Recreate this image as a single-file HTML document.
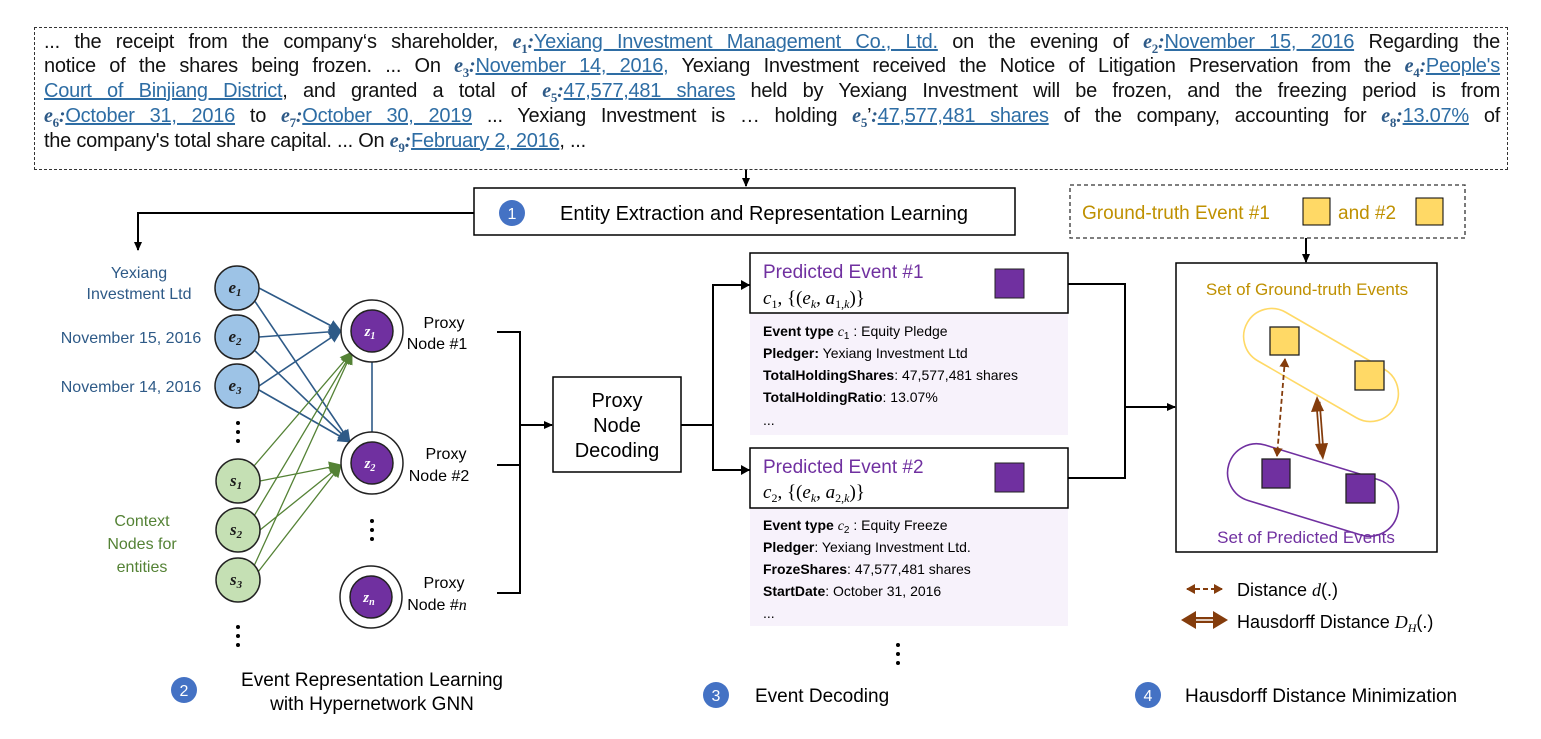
<!DOCTYPE html>
<html><head><meta charset="utf-8"><style>
body{margin:0;width:1541px;height:739px;background:#fff;position:relative;overflow:hidden;font-family:"Liberation Sans",sans-serif}
#top{position:absolute;left:34px;top:27px;width:1474px;height:143px;border:1.5px dashed #333;box-sizing:border-box}
.ln{position:absolute;left:9px;width:1456px;font-size:20px;letter-spacing:-0.25px;text-align:justify;text-align-last:justify;white-space:nowrap;color:#111;line-height:25px}
.ln.l{text-align-last:left}
.e{color:#2e5a87;font-family:"Liberation Serif",serif;font-style:italic;font-weight:bold}
.e sub{font-size:13px;font-style:normal;line-height:0}
.u{color:#2e6da4;text-decoration:underline}
svg{position:absolute;left:0;top:0}
</style></head><body>
<div id="top">
<div class="ln" style="top:2px">... the receipt from the company‘s shareholder, <span class="e">e<sub>1</sub></span><b class="e">:</b><span class="u">Yexiang Investment Management Co., Ltd.</span> on the evening of <span class="e">e<sub>2</sub></span><b class="e">:</b><span class="u">November 15, 2016</span> Regarding the</div>
<div class="ln" style="top:26px">notice of the shares being frozen. ... On <span class="e">e<sub>3</sub></span><b class="e">:</b><span class="u">November 14, 2016,</span> Yexiang Investment received the Notice of Litigation Preservation from the <span class="e">e<sub>4</sub></span><b class="e">:</b><span class="u">People's</span></div>
<div class="ln" style="top:51px"><span class="u">Court of Binjiang District</span>, and granted a total of <span class="e">e<sub>5</sub></span><span class="e">:</span><span class="u">47,577,481 shares</span> held by Yexiang Investment will be frozen, and the freezing period is from</div>
<div class="ln" style="top:76px"><span class="e">e<sub>6</sub></span><span class="e">:</span><span class="u">October 31, 2016</span> to <span class="e">e<sub>7</sub></span><b class="e">:</b><span class="u">October 30, 2019</span> ... Yexiang Investment is … holding <span class="e">e<sub>5</sub></span>’<b class="e">:</b><span class="u">47,577,481 shares</span> of the company, accounting for <span class="e">e<sub>8</sub></span><b class="e">:</b><span class="u">13.07%</span> of</div>
<div class="ln l" style="top:101px">the company's total share capital. ... On <span class="e">e<sub>9</sub></span><span class="e">:</span><span class="u">February 2, 2016</span>, ...</div>
</div>
<svg width="1541" height="739" viewBox="0 0 1541 739">
<defs>
<marker id="ak" markerWidth="10" markerHeight="10" refX="8" refY="5" orient="auto" markerUnits="userSpaceOnUse"><path d="M0,1 L9,5 L0,9 z" fill="#000"/></marker>
<marker id="ab" markerWidth="14" markerHeight="14" refX="12" refY="7" orient="auto" markerUnits="userSpaceOnUse"><path d="M0,1 L13,7 L0,13 z" fill="#2e5a87"/></marker>
<marker id="ag" markerWidth="14" markerHeight="14" refX="12" refY="7" orient="auto" markerUnits="userSpaceOnUse"><path d="M0,1 L13,7 L0,13 z" fill="#548235"/></marker>
<marker id="br" markerWidth="10" markerHeight="10" refX="8" refY="5" orient="auto-start-reverse" markerUnits="userSpaceOnUse"><path d="M0,0 L9,5 L0,10 z" fill="#843c0c"/></marker>
</defs>
<g font-family="Liberation Sans,sans-serif">
<line x1="746" y1="170" x2="746" y2="186" stroke="#000" stroke-width="2" marker-end="url(#ak)"/>
<rect x="474" y="188" width="541" height="47" fill="#fff" stroke="#000" stroke-width="1.5"/>
<circle cx="512" cy="213" r="13" fill="#4472c4"/><text x="512" y="219" fill="#fff" font-size="16" text-anchor="middle">1</text>
<text x="560" y="220" font-size="20">Entity Extraction and Representation Learning</text>
<polyline points="474,213 138,213 138,250" fill="none" stroke="#000" stroke-width="2" marker-end="url(#ak)"/>
<rect x="1070" y="185" width="395" height="53" fill="#fff" stroke="#333" stroke-width="1.3" stroke-dasharray="4,3"/>
<text x="1082" y="219" font-size="19" fill="#bf9000">Ground-truth Event #1</text>
<rect x="1303" y="198" width="27" height="27" fill="#ffd966" stroke="#000"/>
<text x="1338" y="219" font-size="19" fill="#bf9000">and #2</text>
<rect x="1416" y="198" width="27" height="27" fill="#ffd966" stroke="#000"/>
<line x1="1306" y1="238" x2="1306" y2="262" stroke="#000" stroke-width="2" marker-end="url(#ak)"/>

<g stroke="#2e5a87" stroke-width="1.6">
<line x1="259" y1="288" x2="341" y2="331" marker-end="url(#ab)"/>
<line x1="259" y1="337" x2="341" y2="331" marker-end="url(#ab)"/>
<line x1="259" y1="386" x2="341" y2="331" marker-end="url(#ab)"/>
<line x1="252" y1="297" x2="350" y2="442" marker-end="url(#ab)"/>
<line x1="252" y1="348" x2="350" y2="442" marker-end="url(#ab)"/>
<line x1="259" y1="390" x2="350" y2="442" marker-end="url(#ab)"/>
<line x1="372" y1="362" x2="372" y2="432"/>
</g>
<g stroke="#548235" stroke-width="1.3">
<line x1="254" y1="466" x2="352" y2="352" marker-end="url(#ag)"/>
<line x1="254" y1="516" x2="352" y2="352" marker-end="url(#ag)"/>
<line x1="254" y1="566" x2="352" y2="352" marker-end="url(#ag)"/>
<line x1="260" y1="481" x2="341" y2="465" marker-end="url(#ag)"/>
<line x1="260" y1="530" x2="341" y2="465" marker-end="url(#ag)"/>
<line x1="258" y1="572" x2="341" y2="465" marker-end="url(#ag)"/>
</g>
<g stroke="#222" stroke-width="1.5" font-family="Liberation Serif,serif" font-style="italic" font-weight="bold" font-size="17" text-anchor="middle">
<circle cx="237" cy="288" r="22" fill="#9dc3e6"/><circle cx="237" cy="337" r="22" fill="#9dc3e6"/><circle cx="237" cy="386" r="22" fill="#9dc3e6"/>
<circle cx="238" cy="481" r="22" fill="#c5e0b4"/><circle cx="238" cy="530" r="22" fill="#c5e0b4"/><circle cx="238" cy="580" r="22" fill="#c5e0b4"/>
<circle cx="372" cy="331" r="31" fill="#fff"/><circle cx="372" cy="331" r="21" fill="#7030a0"/>
<circle cx="372" cy="463" r="31" fill="#fff"/><circle cx="372" cy="463" r="21" fill="#7030a0"/>
<circle cx="371" cy="597" r="31" fill="#fff"/><circle cx="371" cy="597" r="21" fill="#7030a0"/>
<g stroke="none" fill="#1a1a1a">
<text x="235" y="293">e<tspan font-size="11" dy="3">1</tspan></text>
<text x="235" y="342">e<tspan font-size="11" dy="3">2</tspan></text>
<text x="235" y="391">e<tspan font-size="11" dy="3">3</tspan></text>
<text x="236" y="486">s<tspan font-size="11" dy="3">1</tspan></text>
<text x="236" y="535">s<tspan font-size="11" dy="3">2</tspan></text>
<text x="236" y="585">s<tspan font-size="11" dy="3">3</tspan></text>
</g>
<g stroke="none" fill="#fff" font-size="15">
<text x="370" y="336">z<tspan font-size="10" dy="3">1</tspan></text>
<text x="370" y="468">z<tspan font-size="10" dy="3">2</tspan></text>
<text x="369" y="602">z<tspan font-size="10" dy="3">n</tspan></text>
</g>
</g>
<g fill="#000"><circle cx="238" cy="423" r="2"/><circle cx="238" cy="432" r="2"/><circle cx="238" cy="441" r="2"/>
<circle cx="238" cy="627" r="2"/><circle cx="238" cy="636" r="2"/><circle cx="238" cy="645" r="2"/>
<circle cx="372" cy="521" r="2"/><circle cx="372" cy="530" r="2"/><circle cx="372" cy="539" r="2"/>
<circle cx="898" cy="645" r="2"/><circle cx="898" cy="654" r="2"/><circle cx="898" cy="663" r="2"/></g>
<g font-size="16" fill="#2e5a87" text-anchor="middle">
<text x="139" y="278">Yexiang</text><text x="139" y="299">Investment Ltd</text>
<text x="131" y="343">November 15, 2016</text><text x="131" y="392">November 14, 2016</text>
</g>
<g font-size="16" fill="#548235" text-anchor="middle">
<text x="142" y="526">Context</text><text x="142" y="549">Nodes for</text><text x="142" y="572">entities</text>
</g>
<g font-size="16" fill="#000" text-anchor="middle">
<text x="444" y="328">Proxy</text><text x="437" y="349">Node #1</text>
<text x="446" y="459">Proxy</text><text x="439" y="481">Node #2</text>
<text x="444" y="588">Proxy</text><text x="437" y="610">Node #<tspan font-family="Liberation Serif,serif" font-style="italic">n</tspan></text>
</g>
<polyline points="497,332 520,332 520,593 497,593" fill="none" stroke="#000" stroke-width="2"/>
<line x1="497" y1="465" x2="520" y2="465" stroke="#000" stroke-width="2"/>
<line x1="520" y1="425" x2="552" y2="425" stroke="#000" stroke-width="2" marker-end="url(#ak)"/>
<rect x="553" y="377" width="128" height="95" fill="#fff" stroke="#000" stroke-width="1.5"/>
<g font-size="20" text-anchor="middle"><text x="617" y="407">Proxy</text><text x="617" y="432">Node</text><text x="617" y="457">Decoding</text></g>
<polyline points="681,425 713,425" stroke="#000" stroke-width="2"/>
<polyline points="750,285 713,285 713,470 750,470" fill="none" stroke="#000" stroke-width="2"/>
<path d="M741,280 L750,285 L741,290z M741,465 L750,470 L741,475z" fill="#000"/>
<rect x="750" y="313" width="318" height="122" fill="#f7f2fb"/>
<rect x="750" y="508" width="318" height="118" fill="#f7f2fb"/>
<rect x="750" y="253" width="318" height="60" fill="#fff" stroke="#000" stroke-width="1.5"/>
<rect x="750" y="448" width="318" height="60" fill="#fff" stroke="#000" stroke-width="1.5"/>
<rect x="995" y="269" width="29" height="29" fill="#7030a0" stroke="#222"/>
<rect x="995" y="463" width="29" height="29" fill="#7030a0" stroke="#222"/>
<text x="763" y="278" font-size="19" fill="#7030a0">Predicted Event #1</text>
<text x="763" y="473" font-size="19" fill="#7030a0">Predicted Event #2</text>
<g font-family="Liberation Serif,serif" font-size="19" fill="#000">
<text x="763" y="304"><tspan font-style="italic">c</tspan><tspan font-size="12" dy="4">1</tspan><tspan dy="-4">, {(</tspan><tspan font-style="italic">e</tspan><tspan font-size="12" dy="4" font-style="italic">k</tspan><tspan dy="-4">, </tspan><tspan font-style="italic">a</tspan><tspan font-size="12" dy="4">1,<tspan font-style="italic">k</tspan></tspan><tspan dy="-4">)}</tspan></text>
<text x="763" y="498"><tspan font-style="italic">c</tspan><tspan font-size="12" dy="4">2</tspan><tspan dy="-4">, {(</tspan><tspan font-style="italic">e</tspan><tspan font-size="12" dy="4" font-style="italic">k</tspan><tspan dy="-4">, </tspan><tspan font-style="italic">a</tspan><tspan font-size="12" dy="4">2,<tspan font-style="italic">k</tspan></tspan><tspan dy="-4">)}</tspan></text>
</g>
<g font-size="14" fill="#000">
<text x="763" y="336"><tspan font-weight="bold">Event type</tspan> <tspan font-family="Liberation Serif,serif" font-style="italic">c</tspan><tspan font-size="10" dy="3">1</tspan><tspan dy="-3"> : Equity Pledge</tspan></text>
<text x="763" y="358"><tspan font-weight="bold">Pledger:</tspan> Yexiang Investment Ltd</text>
<text x="763" y="380"><tspan font-weight="bold">TotalHoldingShares</tspan>: 47,577,481 shares</text>
<text x="763" y="402"><tspan font-weight="bold">TotalHoldingRatio</tspan>: 13.07%</text>
<text x="763" y="425">...</text>
<text x="763" y="530"><tspan font-weight="bold">Event type</tspan> <tspan font-family="Liberation Serif,serif" font-style="italic">c</tspan><tspan font-size="10" dy="3">2</tspan><tspan dy="-3"> : Equity Freeze</tspan></text>
<text x="763" y="552"><tspan font-weight="bold">Pledger</tspan>: Yexiang Investment Ltd.</text>
<text x="763" y="574"><tspan font-weight="bold">FrozeShares</tspan>: 47,577,481 shares</text>
<text x="763" y="596"><tspan font-weight="bold">StartDate</tspan>: October 31, 2016</text>
<text x="763" y="618">...</text>
</g>
<polyline points="1068,284 1125,284 1125,478 1068,478" fill="none" stroke="#000" stroke-width="2"/>
<line x1="1125" y1="407" x2="1175" y2="407" stroke="#000" stroke-width="2" marker-end="url(#ak)"/>
<rect x="1176" y="263" width="261" height="289" fill="#fff" stroke="#000" stroke-width="1.5"/>
<text x="1307" y="295" font-size="17" fill="#bf9000" text-anchor="middle">Set of Ground-truth Events</text>
<text x="1306" y="543" font-size="17" fill="#7030a0" text-anchor="middle">Set of Predicted Events</text>
<rect x="-85" y="-28" width="170" height="56" rx="28" transform="translate(1321,365) rotate(30)" fill="none" stroke="#ffd966" stroke-width="1.6"/>
<rect x="-88" y="-29" width="176" height="58" rx="29" transform="translate(1313,490) rotate(17)" fill="none" stroke="#7030a0" stroke-width="1.6"/>
<rect x="1270" y="327" width="29" height="28" fill="#ffd966" stroke="#222" stroke-width="1.3"/>
<rect x="1355" y="361" width="29" height="29" fill="#ffd966" stroke="#222" stroke-width="1.3"/>
<rect x="1262" y="459" width="28" height="29" fill="#7030a0" stroke="#222" stroke-width="1.3"/>
<rect x="1346" y="474" width="29" height="29" fill="#7030a0" stroke="#222" stroke-width="1.3"/>
<line x1="1285" y1="359" x2="1277" y2="456" stroke="#843c0c" stroke-width="1.8" stroke-dasharray="5,3" marker-start="url(#br)" marker-end="url(#br)"/>
<line x1="1318" y1="402" x2="1322" y2="454" stroke="#843c0c" stroke-width="5"/>
<line x1="1318" y1="402" x2="1322" y2="454" stroke="#fff" stroke-width="1.5"/>
<path d="M1311,412 L1317,396 L1324,411z M1315,444 L1323,460 L1328,443z" fill="#843c0c"/>
<line x1="1187" y1="589" x2="1222" y2="589" stroke="#843c0c" stroke-width="2" stroke-dasharray="5,3" marker-start="url(#br)" marker-end="url(#br)"/>
<text x="1237" y="596" font-size="18">Distance <tspan font-family="Liberation Serif,serif" font-style="italic">d</tspan>(.)</text>
<line x1="1187" y1="620" x2="1222" y2="620" stroke="#843c0c" stroke-width="6"/>
<line x1="1195" y1="620" x2="1214" y2="620" stroke="#fff" stroke-width="1.5"/>
<path d="M1181,620 L1196,611 L1196,629z M1228,620 L1213,611 L1213,629z" fill="#843c0c"/>
<text x="1237" y="628" font-size="18">Hausdorff Distance <tspan font-family="Liberation Serif,serif" font-style="italic">D</tspan><tspan font-family="Liberation Serif,serif" font-style="italic" font-size="12" dy="4">H</tspan><tspan dy="-4">(.)</tspan></text>
<circle cx="184" cy="690" r="13" fill="#4472c4"/><text x="184" y="696" fill="#fff" font-size="16" text-anchor="middle">2</text>
<text x="372" y="686" font-size="19" text-anchor="middle">Event Representation Learning</text>
<text x="372" y="710" font-size="19" text-anchor="middle">with Hypernetwork GNN</text>
<circle cx="716" cy="695" r="13" fill="#4472c4"/><text x="716" y="701" fill="#fff" font-size="16" text-anchor="middle">3</text>
<text x="755" y="702" font-size="19">Event Decoding</text>
<circle cx="1148" cy="695" r="13" fill="#4472c4"/><text x="1148" y="701" fill="#fff" font-size="16" text-anchor="middle">4</text>
<text x="1185" y="702" font-size="19">Hausdorff Distance Minimization</text>
</g>
</svg>
</body></html>
